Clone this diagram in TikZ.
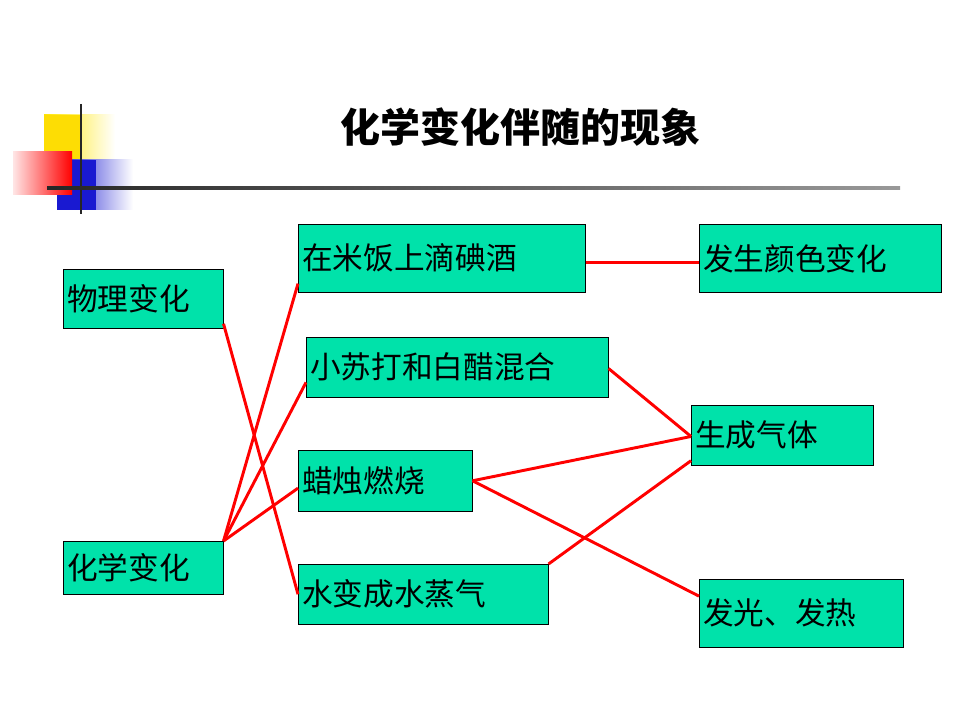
\documentclass[tikz,border=0pt]{standalone}
\usepackage{fontspec}
\setmainfont{Noto Sans CJK SC}
\usetikzlibrary{calc}
\definecolor{boxg}{RGB}{0,226,170}
\tikzset{
  box/.style={draw=black, fill=boxg, anchor=north west, align=left, inner xsep=3pt, inner ysep=0pt, font=\fontsize{23}{26}\selectfont},
  link/.style={draw=red, line width=2.2pt}
}
\newcommand{\bx}[6]{\node[box, minimum width=#4*0.75pt, minimum height=#5*0.75pt, text width=#4*0.75pt-6pt] (#1) at (#2,#3) {#6};}
\begin{document}
\begin{tikzpicture}[x=0.75pt,y=-0.75pt]
\useasboundingbox (0,0) rectangle (960,720);
% decoration
\shade[left color=yellow!80!orange, right color=white] (44,115) rectangle (115,160);
\fill[yellow!80!orange] (44,115) rectangle (82,160);
\shade[left color=blue!80!black!90, right color=white] (57,160) rectangle (133,210);
\fill[blue!80!black!90] (57,160) rectangle (96,210);
\shade[left color=red!10, right color=red] (13,152) rectangle (72,195);
\draw[line width=2pt, black!85] (81,104) -- (81,214);
\shade[left color=black!85, right color=black!40] (47,187) rectangle (900,190);
\node[font=\fontsize{30}{34}\selectfont\bfseries] (title) at (520,127) {化学变化伴随的现象};
% boxes
\bx{p}{63}{269}{160}{59}{物理变化}
\bx{c}{63}{541}{160}{53}{化学变化}
\bx{a}{298}{224}{287}{68}{在米饭上滴碘酒}
\bx{b}{306}{337}{302}{60}{小苏打和白醋混合}
\bx{d}{298}{450}{174}{61}{蜡烛燃烧}
\bx{e}{298}{564}{250}{60}{水变成水蒸气}
\bx{f}{699}{224}{242}{68}{发生颜色变化}
\bx{g}{691}{405}{182}{60}{生成气体}
\bx{h}{699}{579}{204}{68}{发光、发热}
% links
\draw[link] ($(p.north east)!0.92!(p.south east)$) -- ($(e.north west)!0.5!(e.south west)$);
\draw[link] (c.north east) -- ($(a.north west)!0.87!(a.south west)$);
\draw[link] (c.north east) -- ($(b.north west)!0.75!(b.south west)$);
\draw[link] (c.north east) -- ($(d.north west)!0.62!(d.south west)$);
\draw[link] ($(a.north east)!0.56!(a.south east)$) -- ($(f.north west)!0.56!(f.south west)$);
\draw[link] ($(b.north east)!0.52!(b.south east)$) -- ($(g.north west)!0.52!(g.south west)$);
\draw[link] ($(d.north east)!0.5!(d.south east)$) -- ($(g.north west)!0.52!(g.south west)$);
\draw[link] ($(d.north east)!0.5!(d.south east)$) -- ($(h.north west)!0.25!(h.south west)$);
\draw[link] (e.north east) -- ($(g.north west)!0.92!(g.south west)$);
\end{tikzpicture}
\end{document}
